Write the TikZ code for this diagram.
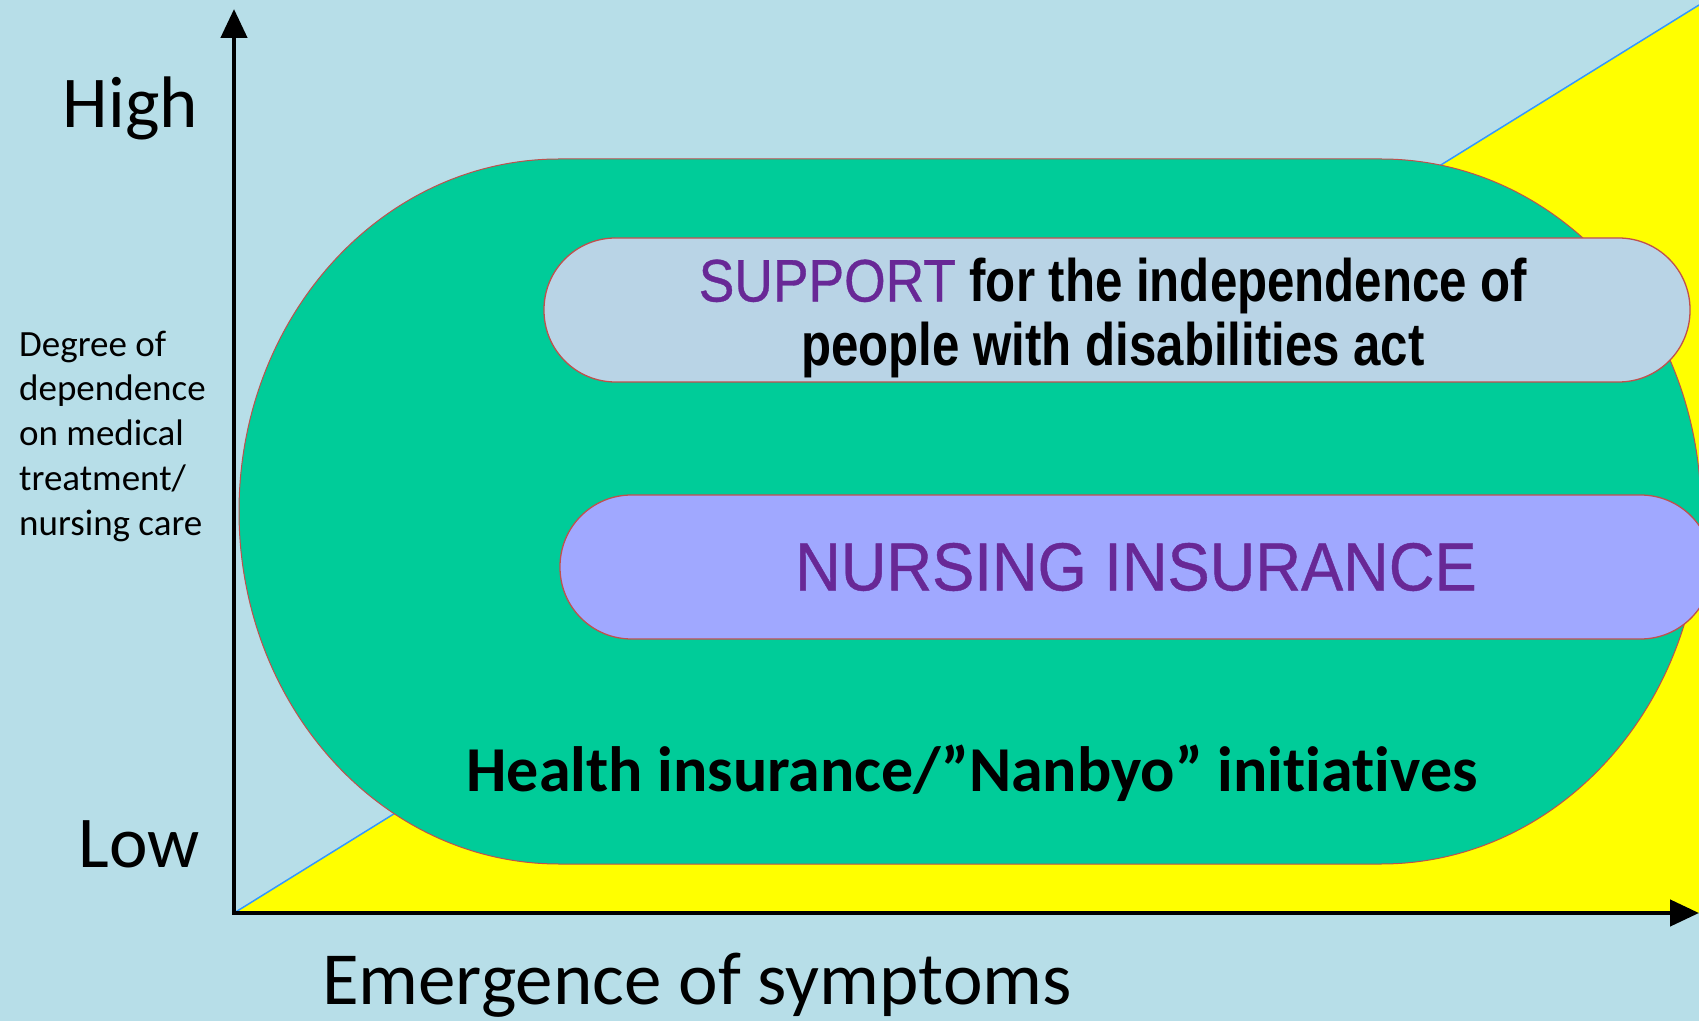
\documentclass[tikz,border=0pt]{standalone}
\usepackage{fontspec}
\setmainfont{Carlito}[Ligatures=NoCommon]
\newfontfamily\narrowsans[FakeStretch=0.82]{Liberation Sans}
\newfontfamily\wordsans[FakeStretch=0.89,FakeBold=0.6]{Liberation Sans}
\newfontfamily\capsans[FakeStretch=0.93,FakeBold=0.6]{Liberation Sans}
\usetikzlibrary{arrows.meta}

\definecolor{slidebg}{RGB}{183,222,232}
\definecolor{caregreen}{RGB}{0,204,153}
\definecolor{onsetyellow}{RGB}{255,255,0}
\definecolor{lineblue}{RGB}{51,153,255}
\definecolor{edgered}{RGB}{192,80,77}
\definecolor{supportfill}{RGB}{185,212,230}
\definecolor{nursingfill}{RGB}{160,168,255}
\definecolor{artpurple}{RGB}{104,40,150}

\begin{document}
\begin{tikzpicture}[x=1pt,y=1pt,line join=miter,
        axis/.style={line width=4.5pt,{Triangle[length=29pt,width=26pt]}-{Triangle[length=29pt,width=26pt]}},
        lawbox/.style={draw=edgered,line width=1.3pt,rounded corners=71.5pt,
                       minimum height=144pt,inner sep=0pt,align=center},
        level/.style={inner sep=0pt,font=\fontsize{73}{80}\selectfont}]
        % draw the slide background
        \fill[slidebg] (0,0) rectangle (1699,1021);
        \useasboundingbox (0,0) rectangle (1699,1021);

        % the corners of the chart
        \coordinate (origin) at (234,108);
        \coordinate (ytip) at (234,1012);
        \coordinate (xtip) at (1699,108);
        \coordinate (corner) at (1699,1016);

        % draw the yellow wedge under the diagonal
        \fill[onsetyellow] (origin) -- (xtip) -- (corner) -- cycle;
        \draw[lineblue,line width=1.5pt] (origin) -- (corner);

        % draw the green area
        \filldraw[fill=caregreen,draw=edgered,line width=1pt]
            (559,862) -- (1381,862)
            arc[start angle=90,end angle=-90,x radius=320,y radius=352.5]
            -- (559,157)
            arc[start angle=270,end angle=90,x radius=320,y radius=352.5]
            -- cycle;

        % the two acts inside the green area
        \node[lawbox,fill=supportfill,minimum width=1146pt] (support) at (1117,711) {};
        \node[inner sep=0pt,align=center,font=\narrowsans\fontsize{60}{64}\selectfont]
            (supporttext) at ([xshift=-4pt,yshift=-8pt]support.center)
            {{\wordsans\color{artpurple}SUPPORT} \textbf{for the independence of}\\
             \textbf{people with disabilities act}};
        \node[lawbox,fill=nursingfill,minimum width=1152pt,text=artpurple,
              font=\capsans\fontsize{68}{72}\selectfont] (nursing) at (1136,454)
            {NURSING INSURANCE};

        \node[anchor=base,inner sep=0pt,font=\fontsize{64}{70}\selectfont\bfseries]
            (health) at (972,230) {Health insurance/”Nanbyo” initiatives};

        % draw the axes
        \draw[axis] (ytip) -- (origin) -- (xtip);

        % labels of the axes
        \node[level,anchor=base east] (high) at (198,893) {High};
        \node[level,anchor=base east] (low) at (200,154) {Low};
        \node[inner sep=0pt,anchor=west,align=left,font=\fontsize{37}{44.75}\selectfont]
            (degree) at (19,585)
            {Degree of\\ dependence\\ on medical\\ treatment/\\ nursing care};
        \node[level,anchor=base,font=\fontsize{75}{80}\selectfont] (onset) at (697,17)
            {Emergence of symptoms};
\end{tikzpicture}
\end{document}
